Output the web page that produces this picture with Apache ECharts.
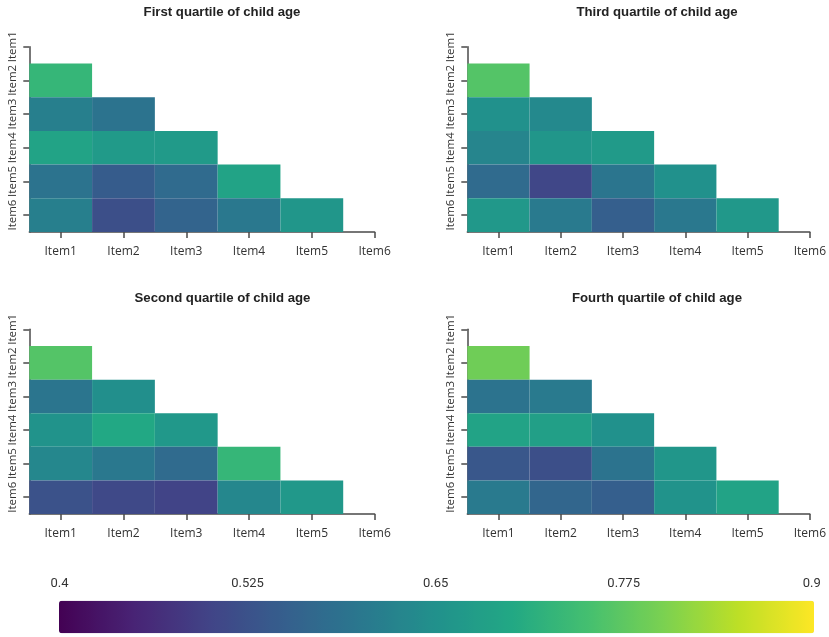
<!DOCTYPE html>
<html>
<head>
<meta charset="utf-8">
<script src="https://cdn.jsdelivr.net/npm/echarts@6/dist/echarts.min.js"></script>
<style>
  html, body { margin: 0; padding: 0; background: #ffffff; }
  #chart { width: 829px; height: 637px; }
</style>
</head>
<body>
<div id="chart"></div>
<script>
// Item labels shared by both axes of every panel
const items = ['Item1', 'Item2', 'Item3', 'Item4', 'Item5', 'Item6'];

// Lower-triangle correlations: row k holds Item(k+2) against Item1..Item(k+1)
const firstQuartile = [
  [0.73],
  [0.615, 0.59],
  [0.69, 0.67, 0.67],
  [0.59, 0.545, 0.575, 0.69],
  [0.615, 0.52, 0.56, 0.60, 0.66]
];
const secondQuartile = [
  [0.765],
  [0.595, 0.645],
  [0.655, 0.70, 0.665],
  [0.63, 0.60, 0.575, 0.73],
  [0.525, 0.51, 0.50, 0.63, 0.665]
];
const thirdQuartile = [
  [0.765],
  [0.65, 0.635],
  [0.625, 0.66, 0.67],
  [0.575, 0.505, 0.595, 0.65],
  [0.665, 0.605, 0.55, 0.60, 0.665]
];
const fourthQuartile = [
  [0.79],
  [0.59, 0.605],
  [0.69, 0.68, 0.65],
  [0.535, 0.52, 0.59, 0.66],
  [0.605, 0.565, 0.55, 0.655, 0.69]
];

// Panel titles
const titles = [
  'First quartile of child age',
  'Third quartile of child age',
  'Second quartile of child age',
  'Fourth quartile of child age'
];

// Colour scale range and legend tick labels
const scaleMin = 0.4;
const scaleMax = 0.9;
const legendTicks = [0.4, 0.525, 0.65, 0.775, 0.9];

const viridis = ['#440154', '#482475', '#414487', '#355f8d', '#2a788e',
                 '#21918c', '#22a884', '#44bf70', '#7ad151', '#bddf26', '#fde725'];

function toCells(rows) {
  const out = [];
  rows.forEach((row, r) => {
    row.forEach((v, c) => out.push([c + 1, r + 2, v]));
  });
  return out;
}

const panels = [firstQuartile, thirdQuartile, secondQuartile, fourthQuartile];
const gridBoxes = [
  { left: 29.3, top: 46.7, width: 345.3, height: 185.2 },
  { left: 467.3, top: 46.7, width: 345.3, height: 185.2 },
  { left: 29.3, top: 329.3, width: 345.3, height: 184.7 },
  { left: 467.3, top: 329.3, width: 345.3, height: 184.7 }
];
const titlePos = [[222, 12], [657, 12], [222.5, 298], [657, 298]];

const axisColor = '#4a4a4a';
const tickValues = items.map((_, i) => i + 1);

function renderCell(params, api) {
  const x = api.value(0), y = api.value(1);
  const p0 = api.coord([x - 0.5, y - 0.5]);
  const p1 = api.coord([x + 0.5, y + 0.5]);
  return {
    type: 'rect',
    shape: {
      x: Math.min(p0[0], p1[0]),
      y: Math.min(p0[1], p1[1]),
      width: Math.abs(p1[0] - p0[0]),
      height: Math.abs(p1[1] - p0[1])
    },
    style: { fill: api.visual('color') }
  };
}

const grids = [], xAxes = [], yAxes = [], series = [], graphics = [];
panels.forEach((rows, i) => {
  grids.push(Object.assign({ containLabel: false }, gridBoxes[i]));
  xAxes.push({
    type: 'value', gridIndex: i, min: 0.5, max: 6, position: 'bottom',
    axisLine: { show: true, onZero: false, lineStyle: { color: axisColor, width: 1.5 } },
    axisTick: { show: true, length: 6, customValues: tickValues, lineStyle: { color: axisColor, width: 1.5 } },
    axisLabel: {
      customValues: tickValues, margin: 14, fontSize: 12, color: '#333',
      fontFamily: 'Open Sans', formatter: v => items[v - 1]
    },
    splitLine: { show: false }
  });
  yAxes.push({
    type: 'value', gridIndex: i, min: 1, max: 6.5, inverse: true, position: 'left',
    axisLine: { show: true, onZero: false, lineStyle: { color: axisColor, width: 1.5 } },
    axisTick: { show: true, length: 6, customValues: tickValues, lineStyle: { color: axisColor, width: 1.5 } },
    axisLabel: {
      customValues: tickValues, margin: 11, rotate: 90, fontSize: 11.5, color: '#333',
      fontFamily: 'Open Sans', formatter: v => items[v - 1]
    },
    splitLine: { show: false }
  });
  series.push({
    type: 'custom', xAxisIndex: i, yAxisIndex: i,
    renderItem: renderCell, encode: { x: 0, y: 1 },
    data: toCells(rows), silent: true
  });
  graphics.push({
    type: 'text', x: titlePos[i][0], y: titlePos[i][1],
    style: {
      text: titles[i], textAlign: 'center', textVerticalAlign: 'middle',
      fontSize: 13.2, fontWeight: 'bold', fontFamily: 'Liberation Sans, Arial', fill: '#222'
    }
  });
});

// Colour-bar label axis
grids.push({ left: 59.5, width: 752.2, top: 600.7, height: 32.6, containLabel: false });
xAxes.push({
  type: 'value', gridIndex: 4, min: scaleMin, max: scaleMax, position: 'top',
  axisLine: { show: false }, axisTick: { show: false }, splitLine: { show: false },
  axisLabel: {
    customValues: legendTicks, margin: 10, fontSize: 13, color: '#333',
    fontFamily: 'Roboto', formatter: v => String(+v.toFixed(3))
  }
});
yAxes.push({ type: 'value', gridIndex: 4, show: false });

const chart = echarts.init(document.getElementById('chart'));
chart.setOption({
  animation: false,
  backgroundColor: '#ffffff',
  grid: grids,
  xAxis: xAxes,
  yAxis: yAxes,
  series: series,
  visualMap: {
    type: 'continuous', min: scaleMin, max: scaleMax, dimension: 2,
    seriesIndex: [0, 1, 2, 3], orient: 'horizontal',
    left: 59, top: 600.7, itemWidth: 32.6, itemHeight: 755,
    calculable: false, text: null, showLabel: false, padding: 0, hoverLink: false,
    inRange: { color: viridis }
  },
  graphic: graphics
});
</script>
</body>
</html>
